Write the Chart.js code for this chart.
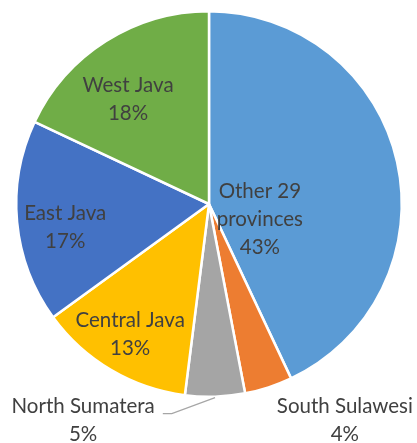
<!DOCTYPE html>
<html>
<head>
<meta charset="utf-8">
<script src="https://cdn.jsdelivr.net/npm/chart.js@4"></script>
<style>
  html, body { margin: 0; padding: 0; background: #fff; }
  #wrap { width: 417px; height: 443px; }
</style>
</head>
<body>
<div id="wrap"><canvas id="myChart"></canvas></div>
<script>
const categories = ["Other 29 provinces", "South Sulawesi", "North Sumatera", "Central Java", "East Java", "West Java"];
const shares = [43, 4, 5, 13, 17, 18];
const sliceColors = ["#5B9BD5", "#ED7D31", "#A5A5A5", "#FFC000", "#4472C4", "#70AD47"];

// label anchor relative to pie centre, in units of the radius
const labelSpots = [
  { dx: 0.264, dy: 0.078, lines: ["Other 29", "provinces"] },
  { dx: 0.705, dy: 1.124 },
  { dx: -0.653, dy: 1.124, leader: true },
  { dx: -0.409, dy: 0.674 },
  { dx: -0.746, dy: 0.119 },
  { dx: -0.42, dy: -0.544 },
];

const sliceLabels = {
  id: "sliceLabels",
  afterDatasetsDraw(chart) {
    const c = chart.ctx;
    const arcs = chart.getDatasetMeta(0).data;
    const total = shares.reduce((a, b) => a + b, 0);
    c.save();
    c.font = "20.5px Lato";
    c.fillStyle = "#404040";
    c.textAlign = "center";
    c.textBaseline = "middle";
    arcs.forEach((arc, i) => {
      const r = arc.outerRadius;
      const spot = labelSpots[i];
      const x = arc.x + spot.dx * r;
      const y = arc.y + spot.dy * r;
      const lines = (spot.lines || [categories[i]]).concat([Math.round(shares[i] / total * 100) + "%"]);
      const lh = 28;
      const top = y - (lines.length - 1) * lh / 2;
      lines.forEach((t, k) => c.fillText(t, x, top + k * lh));
      if (spot.leader) {
        const mid = (arc.startAngle + arc.endAngle) / 2;
        const ex = arc.x + Math.cos(mid) * r;
        const ey = arc.y + Math.sin(mid) * r;
        const w = c.measureText(lines[0]).width;
        c.strokeStyle = "#A6A6A6";
        c.lineWidth = 1.2;
        c.beginPath();
        c.moveTo(x + w / 2 + 8, top + 7);
        c.lineTo(x + w / 2 + 17, top + 7);
        c.lineTo(ex, ey + 1);
        c.stroke();
      }
    });
    c.restore();
  }
};

new Chart(document.getElementById("myChart"), {
  type: "pie",
  data: {
    labels: categories,
    datasets: [{
      data: shares,
      backgroundColor: sliceColors,
      borderColor: "#ffffff",
      borderWidth: 2.5,
    }],
  },
  options: {
    responsive: true,
    maintainAspectRatio: false,
    animation: false,
    layout: { padding: { top: 10, bottom: 45, left: 15, right: 14 } },
    plugins: {
      legend: { display: false },
      tooltip: { enabled: false },
    },
  },
  plugins: [sliceLabels],
});
</script>
</body>
</html>
